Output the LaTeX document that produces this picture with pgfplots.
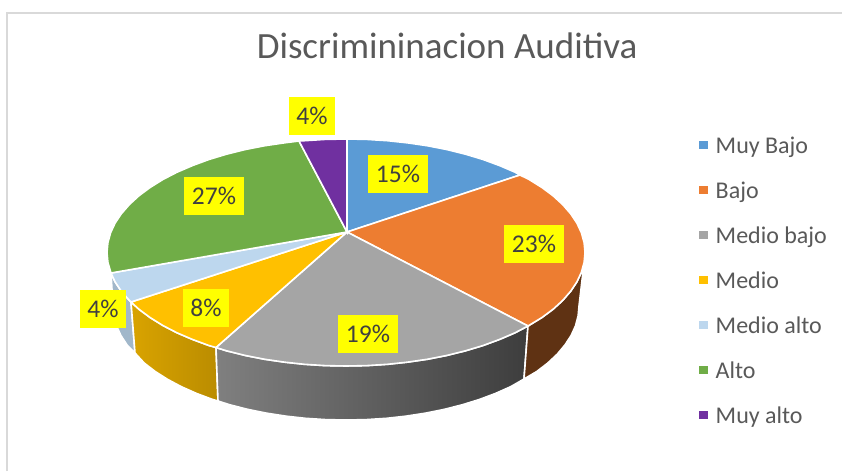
\documentclass[border=0pt]{standalone}
\usepackage{pgfplots}
\pgfplotsset{compat=1.18}
\usepackage{fontspec}
\setmainfont{Carlito}

\definecolor{cmuybajo}{HTML}{5B9BD5}
\definecolor{cbajo}{HTML}{ED7D31}
\definecolor{cmediobajo}{HTML}{A5A5A5}
\definecolor{cmedio}{HTML}{FFC000}
\definecolor{cmedioalto}{HTML}{BDD7EE}
\definecolor{calto}{HTML}{70AD47}
\definecolor{cmuyalto}{HTML}{7030A0}
\definecolor{txt}{HTML}{595959}
\definecolor{lbl}{HTML}{404040}
\definecolor{frame}{HTML}{D9D9D9}
\definecolor{brown}{HTML}{5F3213}
\definecolor{ybox}{HTML}{FFFF00}

\pgfplotstableread{
x y p
398 174 15
534 244 23
368 334 19
206 308 8
103 309 4
214 196 27
312 116 4
}\labels

\begin{document}
\begin{tikzpicture}
\begin{axis}[
    scale only axis,
    width=842pt,
    height=471pt,
    xmin=0, xmax=842,
    ymin=0, ymax=471,
    y dir=reverse,
    hide axis,
    title={Discrimininacion Auditiva},
    title style={at={(axis description cs:0.531,0.862)},anchor=base,
        font=\fontsize{37}{44}\selectfont,text=txt,inner sep=0pt},
    legend cell align=left,
    legend image code/.code={
        \fill[#1,draw=none] (0pt,2.75pt) rectangle (8.5pt,11.25pt);
    },
    legend style={
        draw=none, fill=none,
        font=\fontsize{24}{28}\selectfont,
        text=txt,
        at={(axis description cs:0.8302,0.7255)},
        anchor=north west,
        row sep=0pt,
        column sep=8pt,
        inner sep=0pt,
        nodes={inner sep=0pt,text height=24pt,text depth=21pt},
    },
]
% page background keeps the picture at full size
\addplot[forget plot,draw=none,fill=white] coordinates {(0,0) (842,0) (842,471) (0,471)} -- cycle;
% frame
\addplot[frame,line width=2pt,forget plot] coordinates {(7,471) (7,13) (842,13)};

% sides
\addplot[forget plot,draw=white,line width=1.6pt,fill=cmedioalto!85!black] coordinates {
(131,302) (129.4,300.5) (121.4,291.3) (115.1,281.9) (111,273)
(113,306) (113.9,315.9) (116.5,325.8) (120.9,335.5) (127.1,345) (135,353)
} -- cycle;
\addplot[forget plot,draw=white,line width=1.6pt,left color=cmedio!85!black,right color=cmedio!73!black] coordinates {
(216,347.5) (208.9,345.5) (192.4,339.4) (177,332.8) (162.9,325.5) (150.2,317.6) (139,309.3) (131,302)
(135,353) (144.2,363) (155.1,371.4) (167.5,379.3) (181.2,386.6) (196.2,393.3) (212.4,399.4) (218,401)
} -- cycle;
\addplot[forget plot,draw=white,line width=1.6pt,left color=black!50,middle color=black!67,right color=black!76] coordinates {
(528,326) (515,332.8) (499.6,339.4) (483.1,345.5) (465.5,350.8) (447,355.4) (427.7,359.2) (407.9,362.1)
(387.5,364.3) (366.8,365.6) (346,366) (325.2,365.6) (304.5,364.3) (284.1,362.1) (264.3,359.2) (245,355.4)
(226.5,350.8) (216,347.5)
(218,401) (229.5,404.7) (247.5,409.3) (266.3,413.1) (285.7,416.1) (305.5,418.3) (325.7,419.6) (346,420)
(366.3,419.6) (386.5,418.3) (406.3,416.1) (425.7,413.1) (444.5,409.3) (462.5,404.7) (479.6,399.4)
(495.8,393.3) (510.8,386.6) (524,379)
} -- cycle;
\addplot[forget plot,draw=white,line width=1.6pt,fill=brown] coordinates {
(584.1,262.4) (581.4,272.2) (576.9,281.9) (570.6,291.3) (562.6,300.5) (553,309.3) (541.8,317.6) (528,326)
(524,379) (536.9,371.4) (547.8,363) (557.2,354.2) (564.9,345) (571.1,335.5) (575.5,325.8) (578.1,315.9) (579,306)
} -- cycle;

% top surface
\addplot[draw=white,line width=1.6pt,fill=cmuybajo] coordinates {
(347,232) (347,139) (366.8,139.4) (387.5,140.7) (407.9,142.9) (427.7,145.8) (447,149.6) (465.5,154.2)
(483.1,159.5) (499.6,165.6) (515,172.2) (520,175)
} -- cycle;
\addplot[draw=white,line width=1.6pt,fill=cbajo] coordinates {
(347,232) (520,175) (529.1,179.5) (541.8,187.4) (553,195.7) (562.6,204.5) (570.6,213.7) (576.9,223.1)
(581.4,232.8) (584.1,242.6) (585,252.5) (584.1,262.4) (581.4,272.2) (576.9,281.9) (570.6,291.3)
(562.6,300.5) (553,309.3) (541.8,317.6) (528,326)
} -- cycle;
\addplot[draw=white,line width=1.6pt,fill=cmediobajo] coordinates {
(347,232) (528,326) (515,332.8) (499.6,339.4) (483.1,345.5) (465.5,350.8) (447,355.4) (427.7,359.2)
(407.9,362.1) (387.5,364.3) (366.8,365.6) (346,366) (325.2,365.6) (304.5,364.3) (284.1,362.1)
(264.3,359.2) (245,355.4) (226.5,350.8) (216,347.5)
} -- cycle;
\addplot[draw=white,line width=1.6pt,fill=cmedio] coordinates {
(347,232) (216,347.5) (208.9,345.5) (192.4,339.4) (177,332.8) (162.9,325.5) (150.2,317.6) (139,309.3) (131,302)
} -- cycle;
\addplot[draw=white,line width=1.6pt,fill=cmedioalto] coordinates {
(347,232) (131,302) (129.4,300.5) (121.4,291.3) (115.1,281.9) (111,273)
} -- cycle;
\addplot[draw=white,line width=1.6pt,fill=calto] coordinates {
(347,232) (111,273) (107.9,262.4) (107,252.5) (107.9,242.6) (110.6,232.8) (115.1,223.1) (121.4,213.7)
(129.4,204.5) (139,195.7) (150.2,187.4) (162.9,179.5) (177,172.2) (192.4,165.6) (208.9,159.5)
(226.5,154.2) (245,149.6) (264.3,145.8) (284.1,142.9) (299,141)
} -- cycle;
\addplot[draw=white,line width=1.6pt,fill=cmuyalto] coordinates {
(347,232) (299,141) (304.5,140.7) (325.2,139.4) (347,139)
} -- cycle;

% percentage labels
\addplot[forget plot,draw=none,mark=none,
    point meta=explicit,
    nodes near coords={\pgfmathprintnumber[fixed,precision=0,assume math mode=true]{\pgfplotspointmeta}\%},
    every node near coord/.append style={anchor=center,fill=ybox,text=lbl,
        font=\fontsize{25.5}{28}\selectfont,inner xsep=7.5pt,inner ysep=0pt,
        minimum height=38pt,
        text height=16pt,text depth=0pt},
] table[x=x,y=y,meta=p] {\labels};

\legend{Muy Bajo,Bajo,Medio bajo,Medio,Medio alto,Alto,Muy alto}
\end{axis}
\end{tikzpicture}
\end{document}
